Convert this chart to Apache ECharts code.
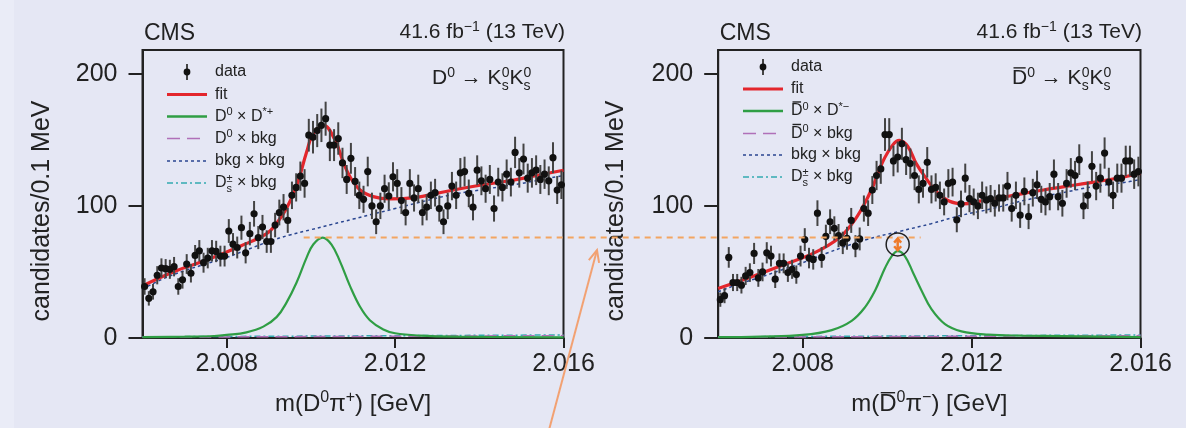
<!DOCTYPE html>
<html>
<head>
<meta charset="utf-8">
<script src="https://cdn.jsdelivr.net/npm/echarts@6/dist/echarts.min.js"></script>
<style>
    html, body { margin: 0; padding: 0; background: #e5e7f4; }
    #main { width: 1186px; height: 428px; }
</style>
</head>
<body>
<div id="main"></div>
<script>
    // bins of 0.1 MeV starting at 2.006 GeV
    var binStart = 2.006, binWidth = 0.0001;

    // candidates per bin, D0 panel
    var leftCounts = [39, 30, 35, 47.5, 53, 52.5, 52, 54, 39, 44,
        56, 49, 62.5, 66, 57, 60.5, 66, 65.5, 62, 62,
        81, 71, 68.5, 83.5, 64.5, 79, 94, 76, 84, 73,
        73, 85.5, 95, 99, 89, 108, 114, 122.5, 117, 153.5,
        152, 157, 161, 166, 146, 146, 151, 132.5, 120, 136,
        118.5, 108, 105, 126, 100, 88, 100, 113, 107.5, 122,
        117, 104, 95, 117, 106, 113, 95, 99, 108, 110,
        98, 88, 100, 115, 108, 125, 126, 109.5, 99, 127,
        119, 113, 120, 98, 118, 114, 124, 118, 140.5, 125,
        135.5, 121, 125, 127, 120, 124, 119, 136.5, 112, 116];
    // candidates per bin, anti-D0 panel
    var rightCounts = [29, 32, 61, 42, 42, 40, 47, 49.5, 64, 45.5,
        50, 64.5, 62, 44.5, 56.5, 56.5, 49.5, 52, 48, 62,
        74.5, 60.5, 59.5, 94.5, 61, 77, 88, 83, 77.5, 72,
        75.5, 89, 69.5, 75, 98, 94.5, 112, 123, 128, 154,
        154, 134, 137, 147, 135, 132, 123, 112.5, 117, 133,
        112.5, 114, 108, 103, 117, 118, 89.5, 101.5, 121, 105.5,
        103, 100, 108, 104.5, 105.5, 102, 106, 106, 115, 98,
        108, 93, 111, 92, 110, 116, 105, 103, 107, 124,
        107, 102, 117, 125, 123, 135, 100, 108, 130, 115,
        121, 140, 118, 108, 121, 121, 134, 134, 124, 126];

    // fit curves, D0 panel
    var leftFitX = [2.006, 2.00673, 2.00752, 2.00832, 2.00895, 2.00919, 2.00942, 2.00966, 2.0099, 2.01006, 2.0103, 2.01057, 2.01077, 2.01093, 2.01117, 2.01148, 2.01188, 2.01251, 2.01299, 2.01354, 2.01409, 2.01473, 2.01536, 2.016];
    var leftFitY = [39.5, 50, 59, 69.5, 79, 87, 98, 115, 141, 155, 161, 150, 133, 122, 112, 107, 105.3, 106.5, 109.5, 113, 116, 119, 123, 127];
    var leftSigX = [2.006, 2.007, 2.0077, 2.008, 2.00847, 2.00887, 2.00919, 2.00942, 2.00966, 2.0099, 2.01006, 2.01028, 2.01049, 2.01069, 2.01093, 2.01117, 2.0114, 2.01172, 2.012, 2.01259, 2.0135, 2.016];
    var leftSigY = [0.6, 1.0, 1.5, 2.3, 4.3, 8.6, 16, 26.8, 42, 61, 71, 76, 70.7, 58, 39.3, 23.5, 13.5, 6.5, 3.6, 1.8, 1.0, 0.5];
    var leftBkgX = [2.006, 2.0065, 2.007, 2.0075, 2.008, 2.0085, 2.009, 2.0095, 2.010, 2.0105, 2.011, 2.0115, 2.012, 2.0125, 2.013, 2.0135, 2.014, 2.0145, 2.015, 2.0155, 2.016];
    var leftBkgY = [37, 45, 51, 56, 61, 67, 73, 78, 82, 86, 90, 94, 98, 102, 106, 109.5, 112, 114.5, 117, 120, 123];
    var leftLowX = [2.006, 2.011, 2.016];
    var leftDbkgY = [0.6, 1.2, 1.8];
    var leftDsY = [0.9, 1.6, 2.3];

    // fit curves, anti-D0 panel
    var rightFitX = [2.006, 2.00673, 2.00752, 2.00831, 2.00886, 2.00918, 2.00942, 2.00966, 2.00989, 2.01013, 2.01029, 2.01049, 2.01069, 2.01092, 2.01116, 2.01148, 2.01179, 2.01227, 2.0129, 2.0137, 2.01449, 2.01528, 2.016];
    var rightFitY = [37.5, 45.6, 55, 65, 75.7, 87, 99, 114.5, 133, 146, 149.6, 145, 132, 121, 111, 103.5, 101.5, 104, 107.5, 112, 116, 120, 124.5];
    var rightSigX = [2.006, 2.007, 2.008, 2.00869, 2.00916, 2.00947, 2.00971, 2.00995, 2.01011, 2.01025, 2.01042, 2.01062, 2.01082, 2.01105, 2.01137, 2.01176, 2.01239, 2.0132, 2.016];
    var rightSigY = [0.6, 1.1, 2.3, 6, 13, 23, 35.6, 53, 62, 65.7, 62, 49, 35.6, 21.8, 10.5, 5, 2.5, 1.8, 0.6];
    var rightBkgX = [2.006, 2.0065, 2.007, 2.0075, 2.008, 2.00855, 2.0095, 2.01029, 2.01104, 2.01171, 2.0125, 2.01329, 2.01408, 2.01487, 2.01566, 2.016];
    var rightBkgY = [35, 41, 46, 51.5, 57, 64, 74.4, 80.7, 86.5, 92.5, 98, 104.5, 109.5, 114.5, 118, 120];
    var rightLowX = [2.006, 2.011, 2.016];
    var rightDbkgY = [0.6, 1.2, 1.8];
    var rightDsY = [0.9, 1.6, 2.3];

    // axes
    var xTicks = [2.008, 2.012, 2.016];
    var yTicks = [0, 100, 200];
    var xMin = 2.006, xMax = 2.016, yMin = 0, yMax = 218;

    var FONT = '"Liberation Sans", Arial, sans-serif';
    var INK = '#222';
    var C = {
        fit: '#e3262c',
        sig: '#2f9e44',
        dbkg: '#b070b8',
        bkg: '#2a4690',
        ds: '#33aab0',
        err: '#444',
        orange: '#f3a561',
        orange2: '#ee7a2a'
    };

    function pairs(xs, ys) {
        return xs.map(function (x, i) { return [x, ys[i]]; });
    }
    function points(counts) {
        // Poisson error on each bin
        return counts.map(function (n, i) { return [binStart + (i + 0.5) * binWidth, n, Math.sqrt(n)]; });
    }

    function curve(p, xs, ys, color, dash, width) {
        return {
            type: 'line', xAxisIndex: p, yAxisIndex: p,
            data: pairs(xs, ys),
            showSymbol: false, smooth: 0.4,
            lineStyle: {color: color, width: width, type: dash || 'solid'},
            silent: true
        };
    }

    function renderPoint(params, api) {
        var x = api.value(0), y = api.value(1), e = api.value(2);
        var p = api.coord([x, y]);
        var hi = api.coord([x, y + e]);
        var lo = api.coord([x, y - e]);
        return {
            type: 'group',
            children: [
                {type: 'line', shape: {x1: p[0], y1: hi[1], x2: p[0], y2: lo[1]}, style: {stroke: C.err, lineWidth: 2}},
                {type: 'circle', shape: {cx: p[0], cy: p[1], r: 3.6}, style: {fill: '#111'}}
            ]
        };
    }

    function panel(p, d) {
        return [
            curve(p, d.lowX, d.dsY, C.ds, [6, 3, 2, 3], 1.5),
            curve(p, d.lowX, d.dbkgY, C.dbkg, [12, 7], 1.5),
            curve(p, d.bkgX, d.bkgY, C.bkg, [3, 3], 1.5),
            curve(p, d.sigX, d.sigY, C.sig, null, 2.2),
            curve(p, d.fitX, d.fitY, C.fit, null, 3.2),
            {
                type: 'custom', xAxisIndex: p, yAxisIndex: p,
                renderItem: renderPoint,
                data: points(d.counts),
                z: 5, silent: true
            }
        ];
    }

    function xAxis(p) {
        return {
            type: 'value', gridIndex: p, min: xMin, max: xMax,
            axisLine: {show: true, onZero: false, lineStyle: {color: INK, width: 2}},
            axisTick: {show: true, length: 10, customValues: xTicks, lineStyle: {color: INK, width: 2}},
            axisLabel: {customValues: xTicks, margin: 14, color: INK, fontSize: 25, fontFamily: FONT},
            splitLine: {show: false}
        };
    }
    function yAxis(p) {
        return {
            type: 'value', gridIndex: p, min: yMin, max: yMax,
            axisLine: {show: true, onZero: false, lineStyle: {color: INK, width: 2}},
            axisTick: {show: true, length: 14, customValues: yTicks, lineStyle: {color: INK, width: 2}},
            axisLabel: {customValues: yTicks, margin: 25, color: INK, fontSize: 25, fontFamily: FONT},
            splitLine: {show: false}
        };
    }

    var option = {
        backgroundColor: '#e5e7f4',
        animation: false,
        grid: [
            {left: 142.5, top: 50, width: 421, height: 288, show: true, borderColor: INK, borderWidth: 2, backgroundColor: 'transparent'},
            {left: 718.2, top: 50, width: 422.3, height: 288, show: true, borderColor: INK, borderWidth: 2, backgroundColor: 'transparent'}
        ],
        xAxis: [xAxis(0), xAxis(1)],
        yAxis: [yAxis(0), yAxis(1)],
        series: panel(0, {
            counts: leftCounts, fitX: leftFitX, fitY: leftFitY, sigX: leftSigX, sigY: leftSigY,
            bkgX: leftBkgX, bkgY: leftBkgY, lowX: leftLowX, dbkgY: leftDbkgY, dsY: leftDsY
        }).concat(panel(1, {
            counts: rightCounts, fitX: rightFitX, fitY: rightFitY, sigX: rightSigX, sigY: rightSigY,
            bkgX: rightBkgX, bkgY: rightBkgY, lowX: rightLowX, dbkgY: rightDbkgY, dsY: rightDsY
        }))
    };

    var chart = echarts.init(document.getElementById('main'));
    chart.setOption(option);

    // ---- text with super/subscripts, built from pieces ----
    var mctx = document.createElement('canvas').getContext('2d');
    function textWidth(t, size) {
        mctx.font = size + 'px ' + FONT;
        return mctx.measureText(t).width;
    }
    function txt(x, y, t, size, color, extra) {
        var el = {
            type: 'text', x: x, y: y, silent: true, z: 20,
            style: {text: t, font: size + 'px ' + FONT, fill: color || INK,
                align: 'left', verticalAlign: 'middle', textAlign: 'left', textVerticalAlign: 'middle'}
        };
        if (extra) Object.keys(extra).forEach(function (k) { el[k] = extra[k]; });
        return el;
    }
    // parts: [text, size, rise, mode]; mode 'stack' -> next piece shares x, 'bar' -> overline
    function mathText(x, base, parts, align, color) {
        var total = 0, stackW = 0, laid = [];
        parts.forEach(function (p) {
            var w = textWidth(p[0], p[1]);
            laid.push({t: p[0], size: p[1], rise: p[2] || 0, mode: p[3], dx: total, w: w});
            if (p[3] === 'stack') { stackW = w; }
            else { total += Math.max(w, stackW); stackW = 0; }
        });
        var x0 = align === 'right' ? x - total : (align === 'center' ? x - total / 2 : x);
        var out = [];
        laid.forEach(function (p) {
            out.push(txt(x0 + p.dx, base - p.rise - 0.35 * p.size, p.t, p.size, color));
            if (p.mode === 'bar') {
                var yb = base - p.rise - 0.72 * p.size - 3;
                out.push({type: 'line', silent: true, z: 20,
                    shape: {x1: x0 + p.dx + 1.5, y1: yb, x2: x0 + p.dx + p.w - 1.5, y2: yb},
                    style: {stroke: color || INK, lineWidth: 1.4}});
            }
        });
        return out;
    }
    function hline(x1, x2, y, color, dash, width) {
        return {type: 'line', silent: true, z: 20, shape: {x1: x1, y1: y, x2: x2, y2: y},
            style: {stroke: color, lineWidth: width, lineDash: dash || null}};
    }

    var g = [];
    g.push({type: 'rect', silent: true, z: -10, shape: {x: 0, y: 0, width: 14, height: 428}, style: {fill: '#eaecf7'}});

    function decorate(p, o) {
        var gl = o.gridLeft, gr = o.gridRight;
        g.push.apply(g, mathText(gl + 1.5, 42, [['CMS', 23, 0]], 'left'));
        g.push.apply(g, mathText(gr + 1.5, 40, [['41.6 fb', 21, 0], ['\u22121', 14, 8], [' (13 TeV)', 21, 0]], 'right'));
        g.push.apply(g, mathText(o.decayX, 86, o.decay, 'left'));
        g.push.apply(g, mathText((gl + gr) / 2, 413, o.xTitle, 'center'));
        var yt = txt(o.yTitleX, 211, 'candidates/0.1 MeV', 25, INK, {rotation: Math.PI / 2});
        yt.style.align = 'center';
        yt.style.textAlign = 'center';
        g.push(yt);

        // legend
        var lx1 = o.legX, lx2 = o.legX + 40, tx = o.legX + 48, r = o.rows;
        var mid = (lx1 + lx2) / 2;
        g.push({type: 'line', silent: true, z: 20, shape: {x1: mid, y1: r[0] - 8, x2: mid, y2: r[0] + 8}, style: {stroke: C.err, lineWidth: 2}});
        g.push({type: 'circle', silent: true, z: 21, shape: {cx: mid, cy: r[0], r: 3.4}, style: {fill: '#111'}});
        g.push(hline(lx1, lx2, r[1], C.fit, null, 3));
        g.push(hline(lx1, lx2, r[2], C.sig, null, 2.5));
        g.push(hline(lx1, lx2, r[3], C.dbkg, [13, 7], 1.5));
        g.push(hline(lx1, lx2, r[4], C.bkg, [3, 3], 1.5));
        g.push(hline(lx1, lx2, r[5], C.ds, [6, 3, 2, 3], 1.5));
        o.legend.forEach(function (parts, i) {
            g.push.apply(g, mathText(tx, r[i] + 5.5, parts, 'left'));
        });
    }

    decorate(0, {
        gridLeft: 142.5, gridRight: 563.5, decayX: 432, yTitleX: 42,
        decay: [['D', 21, 0], ['0', 14, 8], [' \u2192 ', 21, 0], ['K', 21, 0], ['0', 14, 8, 'stack'], ['s', 14, -5], ['K', 21, 0], ['0', 14, 8, 'stack'], ['s', 14, -5]],
        xTitle: [['m(D', 24, 0], ['0', 16, 10], ['\u03c0', 24, 0], ['+', 16, 10], [') [GeV]', 24, 0]],
        legX: 167, rows: [72, 94.5, 116.5, 138.5, 161, 183],
        legend: [
            [['data', 16, 0]],
            [['fit', 16, 0]],
            [['D', 16, 0], ['0', 11, 6], [' \u00d7 D', 16, 0], ['*+', 11, 6]],
            [['D', 16, 0], ['0', 11, 6], [' \u00d7 bkg', 16, 0]],
            [['bkg \u00d7 bkg', 16, 0]],
            [['D', 16, 0], ['\u00b1', 11, 6, 'stack'], ['s', 11, -4], [' \u00d7 bkg', 16, 0]]
        ]
    });
    decorate(1, {
        gridLeft: 718.2, gridRight: 1140.5, decayX: 1012, yTitleX: 616,
        decay: [['D', 21, 0, 'bar'], ['0', 14, 8], [' \u2192 ', 21, 0], ['K', 21, 0], ['0', 14, 8, 'stack'], ['s', 14, -5], ['K', 21, 0], ['0', 14, 8, 'stack'], ['s', 14, -5]],
        xTitle: [['m(', 24, 0], ['D', 24, 0, 'bar'], ['0', 16, 10], ['\u03c0', 24, 0], ['\u2212', 16, 10], [') [GeV]', 24, 0]],
        legX: 743, rows: [67, 89, 111, 133.5, 155, 177],
        legend: [
            [['data', 16, 0]],
            [['fit', 16, 0]],
            [['D', 16, 0, 'bar'], ['0', 11, 6], [' \u00d7 D', 16, 0], ['*\u2212', 11, 6]],
            [['D', 16, 0, 'bar'], ['0', 11, 6], [' \u00d7 bkg', 16, 0]],
            [['bkg \u00d7 bkg', 16, 0]],
            [['D', 16, 0], ['\u00b1', 11, 6, 'stack'], ['s', 11, -4], [' \u00d7 bkg', 16, 0]]
        ]
    });

    // ---- annotation: compare the two signal peaks ----
    function peakOf(xs, ys) {
        var m = Math.max.apply(null, ys);
        return [xs[ys.indexOf(m)], m];
    }
    var lp = chart.convertToPixel({xAxisIndex: 0, yAxisIndex: 0}, peakOf(leftSigX, leftSigY));
    var rp = chart.convertToPixel({xAxisIndex: 1, yAxisIndex: 1}, peakOf(rightSigX, rightSigY));
    g.push(hline(lp[0] - 19, rp[0] + 23, lp[1], C.orange, [6, 5], 2));
    g.push({type: 'circle', silent: true, z: 21, shape: {cx: rp[0], cy: (lp[1] + rp[1]) / 2, r: 11.5},
        style: {fill: 'none', stroke: INK, lineWidth: 1.5}});
    var ay1 = lp[1] + 1, ay2 = rp[1] - 1;
    g.push({type: 'line', silent: true, z: 22, shape: {x1: rp[0], y1: ay1, x2: rp[0], y2: ay2}, style: {stroke: C.orange2, lineWidth: 2.5}});
    g.push({type: 'polyline', silent: true, z: 22, shape: {points: [[rp[0] - 3.5, ay1 + 4], [rp[0], ay1], [rp[0] + 3.5, ay1 + 4]]}, style: {stroke: C.orange2, lineWidth: 2.5, fill: 'none'}});
    g.push({type: 'polyline', silent: true, z: 22, shape: {points: [[rp[0] - 3.5, ay2 - 4], [rp[0], ay2], [rp[0] + 3.5, ay2 - 4]]}, style: {stroke: C.orange2, lineWidth: 2.5, fill: 'none'}});

    // pointer arrow from the bottom edge
    var tail = [549, 430], tip = [597, 250];
    var dx = tail[0] - tip[0], dy = tail[1] - tip[1], len = Math.sqrt(dx * dx + dy * dy);
    var ux = dx / len, uy = dy / len, a = 0.42, hl = 13;
    var h1 = [tip[0] + hl * (ux * Math.cos(a) - uy * Math.sin(a)), tip[1] + hl * (ux * Math.sin(a) + uy * Math.cos(a))];
    var h2 = [tip[0] + hl * (ux * Math.cos(-a) - uy * Math.sin(-a)), tip[1] + hl * (ux * Math.sin(-a) + uy * Math.cos(-a))];
    g.push({type: 'line', silent: true, z: 22, shape: {x1: tail[0], y1: tail[1], x2: tip[0], y2: tip[1]}, style: {stroke: '#f2a172', lineWidth: 2}});
    g.push({type: 'polyline', silent: true, z: 22, shape: {points: [h1, tip, h2]}, style: {stroke: '#f2a172', lineWidth: 2, fill: 'none'}});

    chart.setOption({graphic: g});
</script>
</body>
</html>
